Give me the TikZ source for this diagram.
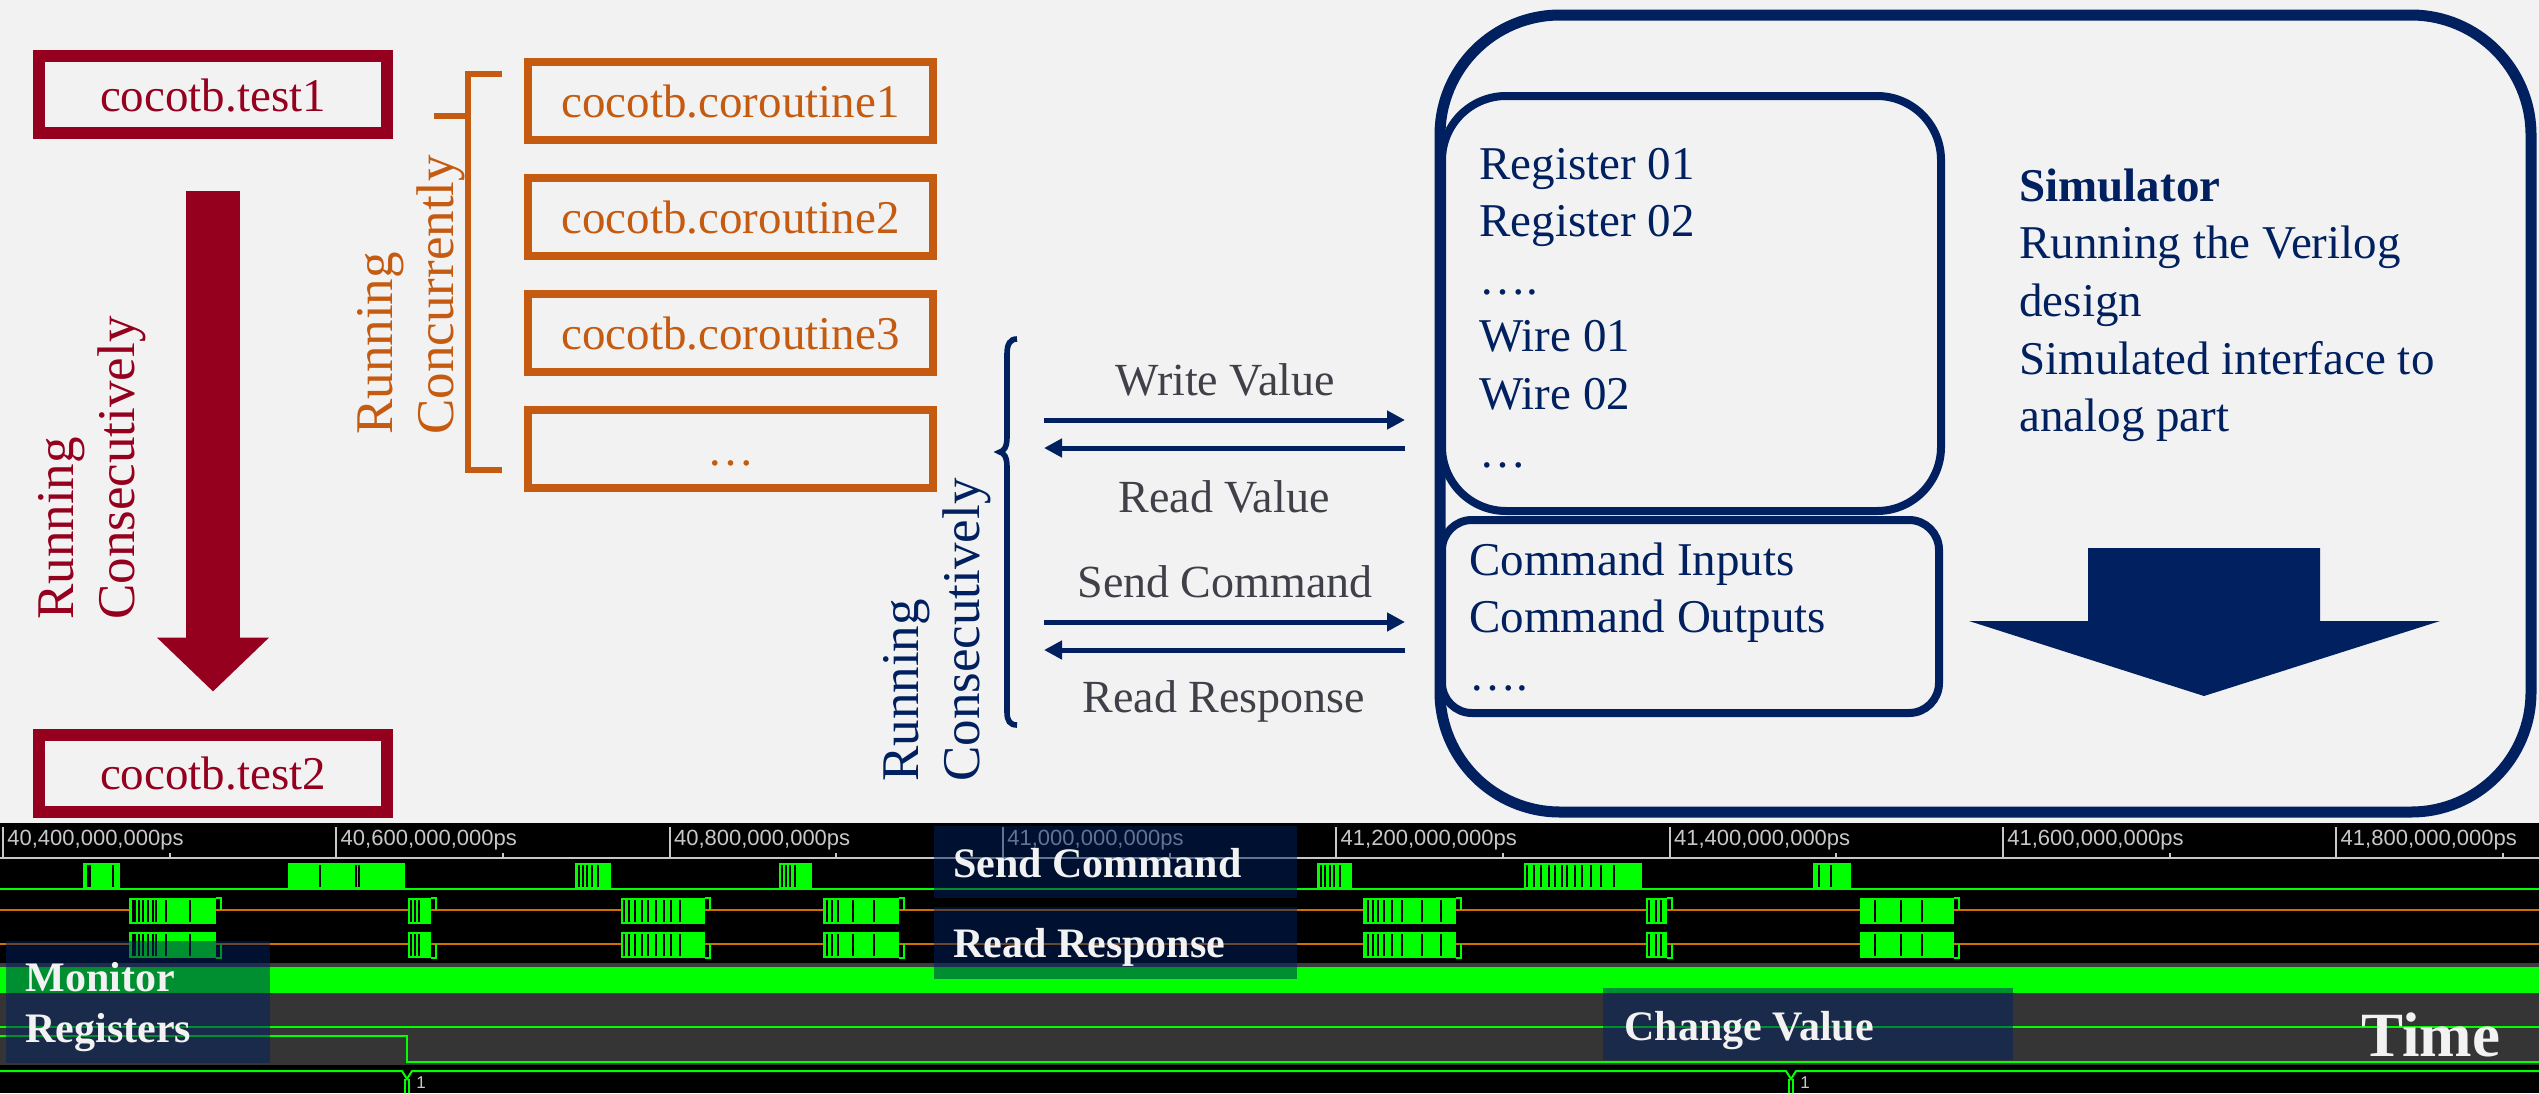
\documentclass[tikz,border=0pt]{standalone}
\usepackage{fontspec}
\setmainfont{Liberation Serif}
\newfontfamily\wvsans{Liberation Sans}
\usetikzlibrary{arrows.meta}

\definecolor{cbg}{HTML}{F2F2F2}
\definecolor{cred}{HTML}{95001F}
\definecolor{corange}{HTML}{C55A11}
\definecolor{cnavy}{HTML}{002060}
\definecolor{cgraytxt}{HTML}{404048}
\definecolor{wgreen}{HTML}{00FF00}
\definecolor{worange}{HTML}{D07000}
\definecolor{wgray}{HTML}{353535}
\definecolor{wsep}{HTML}{3C3C3C}
\definecolor{wruler}{HTML}{C8C8C8}
\definecolor{wtext}{HTML}{F2F2F2}

\newcommand\fsmain{\fontsize{23.5pt}{28pt}\selectfont}
\newcommand\fslabel{\fontsize{23pt}{28pt}\selectfont}
\newcommand\fsrot{\fontsize{26.5pt}{32pt}\selectfont}
\newcommand\fsovl{\fontsize{21pt}{25pt}\selectfont\bfseries}
\newcommand\fsruler{\wvsans\fontsize{11pt}{13pt}\selectfont}

% one burst of activity on a waveform row: top, bottom, start, end, edge positions
\newcommand\wvburst[5]{%
  \fill[wgreen] (#3,#1) rectangle (#4,#2);
  \foreach \lx in {#5} {\draw[black, line width=1pt] (\lx,{#1+2}) -- (\lx,{#2-2});}
}
% a burst on the two tri-state rows, with the return to the mid level
\newcommand\wvbus[3]{%
  \wvburst{898}{924}{#1}{#2}{#3}
  \draw[wgreen, line width=1pt] (#2,898) -- ({#2+5},898) -- ({#2+5},910);
  \wvburst{932}{958}{#1}{#2}{#3}
  \draw[wgreen, line width=1pt] (#2,958) -- ({#2+5},958) -- ({#2+5},944);
}

\begin{document}
\begin{tikzpicture}[x=0.5pt, y=-0.5pt,
  txt/.style={inner sep=0pt, font=\fsmain},
  redbox/.style={draw=cred, line width=6pt, minimum width=174pt, minimum height=38.5pt,
    inner sep=0pt, text=cred, font=\fsmain, text height=16.5pt, text depth=0pt},
  corobox/.style={draw=corange, line width=4pt, minimum width=202.5pt, minimum height=39pt,
    inner sep=0pt, text=corange, font=\fsmain, text height=16.5pt, text depth=0pt},
  rottxt/.style={rotate=90, anchor=base west, inner sep=0pt, font=\fsrot},
  navarrow/.style={cnavy, line width=2.5pt, -{Triangle[length=9pt,width=9pt]}},
  arlabel/.style={inner sep=0pt, anchor=base, text=cgraytxt, font=\fslabel},
  navtxt/.style={txt, anchor=base west, text=cnavy},
  ovl/.style={fill=cnavy, fill opacity=0.5, inner sep=0pt, anchor=north west},
  ovltxt/.style={inner sep=0pt, anchor=base west, text=wtext, font=\fsovl},
  wline/.style={wgreen, line width=1pt},
]
\useasboundingbox (0,0) rectangle (2539,1093);
\fill[cbg] (0,0) rectangle (2539,823);
\fill[black] (0,823) rectangle (2539,1093);

% ---------- tests running one after another ----------
\node[redbox] (test1) at (213,94.5) {cocotb.test1};
\node[redbox] (test2) at (213,773) {cocotb.test2};
\draw[cred, line width=27pt, -{Triangle[length=27pt,width=54.5pt]}]
  ([yshift=-26pt]test1.south) -- ([yshift=18.5pt]test2.north);
\node[rottxt, text=cred] (redrun) at (73,620) {Running};
\node[rottxt, text=cred] (redcons) at (134,620) {Consecutively};

% ---------- coroutines running together ----------
\node[corobox] (coro1) at (730.5,101) {cocotb.coroutine1};
\node[corobox] (coro2) at (730.5,216.5) {cocotb.coroutine2};
\node[corobox] (coro3) at (730.5,332.5) {cocotb.coroutine3};
\node[corobox] (coro4) at (730.5,448.5) {…};
\draw[corange, line width=3pt] (502,74) -- (468,74) -- (468,470) -- (502,470);
\draw[corange, line width=3pt] (434,115.5) -- (468,115.5);
\node[rottxt, text=corange] (orrun) at (392,435) {Running};
\node[rottxt, text=corange] (orconc) at (453,435) {Concurrently};

% ---------- accesses to the simulator ----------
\draw[cnavy, line width=2.8pt]
  (1017,339) .. controls (1010,339) and (1007,344) .. (1007,354) -- (1007,437)
  .. controls (1007,447) and (1004,451) .. (1000,452)
  .. controls (1004,453) and (1007,457) .. (1007,467) -- (1007,712)
  .. controls (1007,721) and (1010,725) .. (1017,725);
\node[rottxt, text=cnavy] (blrun) at (918,782) {Running};
\node[rottxt, text=cnavy] (blcons) at (979,782) {Consecutively};

\coordinate (wvL) at (1044,420);  \coordinate (wvR) at (1405,420);
\coordinate (rvL) at (1044,448);  \coordinate (rvR) at (1405,448);
\coordinate (scL) at (1044,622);  \coordinate (scR) at (1405,622);
\coordinate (rrL) at (1044,650);  \coordinate (rrR) at (1405,650);
\draw[navarrow] (wvL) -- (wvR);
\draw[navarrow] (rvR) -- (rvL);
\draw[navarrow] (scL) -- (scR);
\draw[navarrow] (rrR) -- (rrL);
\node[arlabel] (lwv) at (1225,395) {Write Value};
\node[arlabel] (lrv) at (1224,512) {Read Value};
\node[arlabel] (lsc) at (1225,597) {Send Command};
\node[arlabel] (lrr) at (1224,712) {Read Response};

% ---------- simulator ----------
\node[draw=cnavy, line width=5.5pt, rounded corners=60pt, minimum width=545.5pt,
  minimum height=398.5pt, inner sep=0pt] (sim) at (1985.5,413.5) {};
\node[draw=cnavy, line width=4pt, rounded corners=32pt, minimum width=249.5pt,
  minimum height=207.5pt, inner sep=0pt] (regs) at (1691.5,303.5) {};
\node[draw=cnavy, line width=4pt, rounded corners=15pt, minimum width=248.5pt,
  minimum height=96.5pt, inner sep=0pt] (cmds) at (1690.5,616.5) {};

\foreach \t [count=\i] in {Register 01, Register 02, …., Wire 01, Wire 02, …}
  \node[navtxt] (reg\i) at (1479,{179+57.6*(\i-1)}) {\t};
\foreach \t [count=\i] in {Command Inputs, Command Outputs, ….}
  \node[navtxt] (cmd\i) at (1469,{575+57.5*(\i-1)}) {\t};

\node[navtxt, font=\fsmain\bfseries] (simtitle) at (2019,201) {Simulator};
\foreach \t [count=\i] in {Running the Verilog, design, Simulated interface to, analog part}
  \node[navtxt] (simline\i) at (2019,{201+57.7*\i}) {\t};

\fill[cnavy] (2088,548) -- (2320,548) -- (2320,621) -- (2440,621) -- (2204,696)
  -- (1969,621) -- (2088,621) -- cycle;

% ---------- waveform viewer ----------
% time ruler
\draw[wruler, line width=1pt] (0,858) -- (2539,858);
\foreach \lab [count=\k from 0] in {{40,400,000,000ps},{40,600,000,000ps},{40,800,000,000ps},
    {41,000,000,000ps},{41,200,000,000ps},{41,400,000,000ps},{41,600,000,000ps},{41,800,000,000ps}} {
  \draw[wruler, line width=1pt] ({3+333.33*\k},827) -- ({3+333.33*\k},858);
  \draw[wruler, line width=1pt] ({169.7+333.33*\k},853) -- ({169.7+333.33*\k},858);
  \node[inner sep=0pt, anchor=base west, text=wruler, font=\fsruler] (tick\k)
    at ({7+333.33*\k},845) {\lab};
}

% row 1: command line
\draw[wline] (0,889) -- (2539,889);
\wvburst{863}{889}{83}{120}{88,90,113}
\wvburst{863}{889}{288}{405}{320,356,359}
\wvburst{863}{889}{575}{611}{579,583,587,592,598}
\wvburst{863}{889}{779}{812}{782,786,790,795}
\wvburst{863}{889}{1317}{1352}{1321,1325,1330,1334,1340}
\wvburst{863}{889}{1524}{1642}{1527,1534,1541,1549,1555,1562,1567,1575,1582,1591,1601,1614}
\wvburst{863}{889}{1813}{1851}{1819,1831}

% rows 2 and 3: response lines
\draw[worange, line width=1pt] (0,910) -- (2539,910);
\draw[worange, line width=1pt] (0,944) -- (2539,944);
\wvbus{129}{216}{133,135,139,143,148,153,156,166,190}
\wvbus{408}{431}{411,415,419}
\wvbus{621}{705}{624,629,635,642,648,656,664,671,680}
\wvbus{823}{899}{827,832,838,853,874}
\wvbus{1363}{1456}{1368,1373,1378,1384,1392,1402,1422,1441}
\wvbus{1646}{1667}{1649,1656,1661}
\wvbus{1860}{1954}{1875,1901,1922}

% highlighted rows
\fill[wsep] (0,963) rectangle (2539,967);
\fill[wgreen] (0,967) rectangle (2539,993);
\fill[wgray] (0,993) rectangle (2539,1065);
\draw[wline] (0,1027) -- (2539,1027);
\draw[wline] (0,1036) -- (407,1036) -- (407,1062) -- (2539,1062);

% bus value row
\draw[wline] (0,1071) -- (402,1071) -- (407,1079) -- (412,1071) -- (1786,1071)
  -- (1791,1079) -- (1796,1071) -- (2539,1071);
\draw[wline] (405,1079) -- (405,1093) (409,1079) -- (409,1093);
\draw[wline] (1789,1079) -- (1789,1093) (1793,1079) -- (1793,1093);
\node[inner sep=0pt, anchor=base west, text=wruler, font=\wvsans\fontsize{8.5pt}{10pt}\selectfont]
  (val1) at (416,1088) {1};
\node[inner sep=0pt, anchor=base west, text=wruler, font=\wvsans\fontsize{8.5pt}{10pt}\selectfont]
  (val2) at (1800,1088) {1};

% callouts over the waveforms
\node[ovl, minimum width=132pt, minimum height=61pt] (monbox) at (6,941) {};
\node[ovl, minimum width=181.5pt, minimum height=36pt] (scbox) at (934,826) {};
\node[ovl, minimum width=181.5pt, minimum height=36pt] (rrbox) at (934,907) {};
\node[ovl, minimum width=205pt, minimum height=36pt] (cvbox) at (1603,988) {};
\node[ovltxt] (montxt1) at (25,991) {Monitor};
\node[ovltxt] (montxt2) at (25,1042) {Registers};
\node[ovltxt] (sctxt) at (953,877) {Send Command};
\node[ovltxt] (rrtxt) at (953,957) {Read Response};
\node[ovltxt] (cvtxt) at (1624,1040) {Change Value};
\node[inner sep=0pt, anchor=base west, text=wtext, font=\fontsize{31.5pt}{36pt}\selectfont\bfseries]
  (timetxt) at (2361,1056) {Time};
\end{tikzpicture}
\end{document}
